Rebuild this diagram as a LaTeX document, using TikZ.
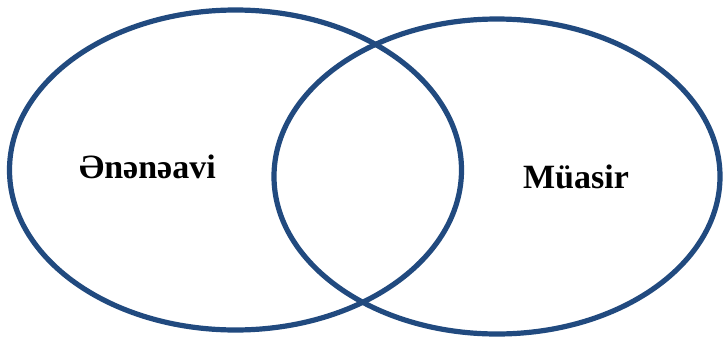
\documentclass[tikz,border=0pt]{standalone}
\usepackage{fontspec}
\setmainfont{Liberation Serif}
\definecolor{ringblue}{RGB}{33,74,127}
\begin{document}
\begin{tikzpicture}[x=1pt,y=-1pt,
  ring/.style={draw=ringblue,line width=5.2pt},
  lbl/.style={font=\fontsize{34}{38}\selectfont\bfseries,inner sep=0pt,anchor=base}]
\useasboundingbox (0,0) rectangle (723,338);
\draw[ring] (235.5,170) ellipse [x radius=226,y radius=160];
\draw[ring] (497,176.5) ellipse [x radius=223,y radius=157.5];
\node[lbl] (left) at (147.5,178) {Ənənəavi};
\node[lbl] (right) at (576,188) {Müasir};
\end{tikzpicture}
\end{document}
